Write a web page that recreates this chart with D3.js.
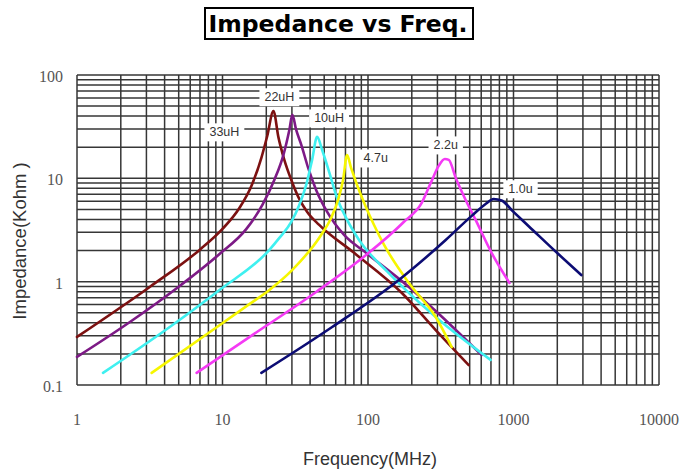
<!DOCTYPE html>
<html>
<head>
<meta charset="utf-8">
<script src="https://cdnjs.cloudflare.com/ajax/libs/d3/7.8.5/d3.min.js"></script>
<style>
  body { margin: 0; background: #fff; }
</style>
</head>
<body>
<script>
// axis ticks
var freqTicks = [1, 10, 100, 1000, 10000];
var impTicks = [0.1, 1, 10, 100];

// series (MHz, Kohm)
var freq33 = [1, 3.16, 6.96, 10, 13.07, 15.8, 18.5, 20.3, 22.4, 24.2, 26.6, 29.7, 33.7, 38.2, 46.2, 80.2, 171, 292, 492];
var imp33  = [0.292, 0.889, 2.03, 3.24, 5.17, 8.44, 15.8, 25.7, 44.9, 25.2, 15.1, 9.65, 6.32, 4.73, 3.54, 1.90, 0.777, 0.340, 0.156];

var freq22 = [1, 2.31, 5.08, 9.54, 14.6, 18.8, 22.7, 26.2, 28.8, 30.2, 32.1, 34.8, 38.8, 44.0, 52.4, 68.5, 96.9, 191, 292, 604];
var imp22  = [0.187, 0.407, 0.909, 1.854, 3.24, 5.53, 9.65, 16.8, 29.4, 41.1, 29.4, 21.1, 12.6, 7.72, 4.73, 2.83, 1.90, 0.889, 0.520, 0.195];

var freq10 = [1.51, 4.34, 9.54, 21.0, 24.6, 29.7, 33.7, 37.6, 41.3, 44.7, 48.4, 54.1, 61.3, 70.7, 86.8, 139, 292, 696];
var imp10  = [0.131, 0.364, 0.831, 2.03, 2.65, 3.78, 5.53, 8.63, 15.1, 25.2, 18.8, 11.5, 6.46, 4.14, 2.53, 1.21, 0.455, 0.175];

var freq47 = [3.26, 9.54, 15.3, 21.0, 30.2, 47.6, 55.8, 62.3, 67.4, 71.8, 76.5, 84.1, 95.4, 110, 129, 191, 292, 376];
var imp47  = [0.131, 0.379, 0.606, 0.831, 1.30, 2.83, 4.14, 6.18, 9.65, 16.8, 12.6, 8.63, 5.53, 3.54, 2.27, 0.971, 0.455, 0.233];

var freq22u = [6.64, 15.3, 44.0, 96.9, 176, 234, 270, 306, 337, 359, 401, 469, 549, 707, 939];
var imp22u  = [0.131, 0.291, 0.795, 1.81, 3.78, 5.78, 9.03, 13.2, 15.4, 15.1, 10.1, 6.18, 3.96, 1.90, 0.971];

var freq10u = [18.5, 56.7, 163, 342, 516, 643, 730, 828, 1000, 1267, 2033, 2923];
var imp10u  = [0.131, 0.364, 1.04, 2.53, 4.33, 5.65, 6.32, 6.10, 4.73, 3.46, 1.85, 1.16];

var seriesNames = ["33uH", "22uH", "10uH", "4.7u", "2.2u", "1.0u"];
var seriesColors = ["#7c1111", "#7d1a86", "#3ff0f0", "#f6f600", "#f43af4", "#0c0c74"];
// where each name label sits (MHz, Kohm)
var labelFreq = [10.3, 24.6, 54, 113, 342, 1117];
var labelImp  = [28.1, 61.4, 38.3, 15.7, 21, 7.9];

var series = [
  {f: freq33, z: imp33}, {f: freq22, z: imp22}, {f: freq10, z: imp10},
  {f: freq47, z: imp47}, {f: freq22u, z: imp22u}, {f: freq10u, z: imp10u}
].map(function(s, i){
  return { name: seriesNames[i], color: seriesColors[i],
           pts: s.f.map(function(f, j){ return {f: f, z: s.z[j]}; }) };
});

var W = 682, H = 470;
var margin = {left: 77, right: 23, top: 75, bottom: 85};
var width = W - margin.left - margin.right;
var height = H - margin.top - margin.bottom;

var svg = d3.select("body").append("svg").attr("width", W).attr("height", H);

// title with box
var title = svg.append("text")
  .attr("x", 338).attr("y", 32)
  .attr("text-anchor", "middle")
  .style("font-family", "'DejaVu Sans', Verdana, sans-serif")
  .style("font-weight", "bold").style("font-size", "20px")
  .text("Impedance vs Freq.");
var tw = title.node().getComputedTextLength();
title.style("font-size", (20 * 259 / tw) + "px");
svg.insert("rect", "text")
  .attr("x", 205).attr("y", 8)
  .attr("width", 268).attr("height", 31)
  .attr("fill", "none").attr("stroke", "#000").attr("stroke-width", 2);

var x = d3.scaleLog().domain([1, 10000]).range([0, width]);
var y = d3.scaleLog().domain([0.1, 100]).range([height, 0]);

var g = svg.append("g").attr("transform", "translate(" + margin.left + "," + margin.top + ")");

// log grid
var xGrid = [], yGrid = [];
freqTicks.slice(0, -1).forEach(function(d){ for (var k = 1; k < 10; k++) xGrid.push(d * k); });
xGrid.push(10000);
impTicks.slice(0, -1).forEach(function(d){ for (var k = 1; k < 10; k++) yGrid.push(d * k); });
yGrid.push(100);

g.append("g").selectAll("line").data(xGrid).enter().append("line")
  .attr("x1", function(d){ return x(d); }).attr("x2", function(d){ return x(d); })
  .attr("y1", 0).attr("y2", height)
  .attr("stroke", "#363636").attr("stroke-width", 1.5);
g.append("g").selectAll("line").data(yGrid).enter().append("line")
  .attr("y1", function(d){ return y(d); }).attr("y2", function(d){ return y(d); })
  .attr("x1", 0).attr("x2", width)
  .attr("stroke", "#363636").attr("stroke-width", 1.5);

// tick labels
g.append("g").selectAll("text").data(freqTicks).enter().append("text")
  .attr("x", function(d){ return x(d); }).attr("y", height + 40)
  .attr("text-anchor", "middle")
  .style("font-family", "'Liberation Serif', 'Times New Roman', serif")
  .style("font-size", "16px").attr("fill", "#555")
  .text(function(d){ return d; });
g.append("g").selectAll("text").data(impTicks).enter().append("text")
  .attr("x", -14).attr("y", function(d){ return y(d) + 7; })
  .attr("text-anchor", "end")
  .style("font-family", "'Liberation Serif', 'Times New Roman', serif")
  .style("font-size", "16px").attr("fill", "#555")
  .text(function(d){ return d; });

// axis titles
svg.append("text")
  .attr("x", 370).attr("y", 465)
  .attr("text-anchor", "middle")
  .style("font-family", "'Liberation Sans', Arial, sans-serif")
  .style("font-size", "18px").attr("fill", "#333")
  .text("Frequency(MHz)");
svg.append("text")
  .attr("transform", "translate(26,241) rotate(-90)")
  .attr("text-anchor", "middle")
  .style("font-family", "'Liberation Sans', Arial, sans-serif")
  .style("font-size", "18.5px").attr("fill", "#333")
  .text("Impedance(Kohm )");

// series name labels with white backing
var labels = g.append("g").selectAll("g").data(series).enter().append("g")
  .attr("transform", function(d, i){ return "translate(" + x(labelFreq[i]) + "," + y(labelImp[i]) + ")"; });
labels.append("text")
  .attr("text-anchor", "middle").attr("dy", "0.35em")
  .style("font-family", "'Liberation Sans', Arial, sans-serif")
  .style("font-size", "12.5px").attr("fill", "#333")
  .text(function(d){ return d.name; });
labels.each(function(){
  var t = d3.select(this).select("text");
  var b = t.node().getBBox();
  d3.select(this).insert("rect", "text")
    .attr("x", b.x - 5).attr("y", b.y - 2)
    .attr("width", b.width + 10).attr("height", b.height + 4)
    .attr("fill", "#fff");
});

// curves
var line = d3.line()
  .x(function(d){ return x(d.f); })
  .y(function(d){ return y(d.z); })
  .curve(d3.curveMonotoneX);

g.append("g").selectAll("path").data(series).enter().append("path")
  .attr("d", function(d){ return line(d.pts); })
  .attr("fill", "none")
  .attr("stroke", function(d){ return d.color; })
  .attr("stroke-width", 2.6)
  .attr("stroke-linecap", "round");
</script>
</body>
</html>
